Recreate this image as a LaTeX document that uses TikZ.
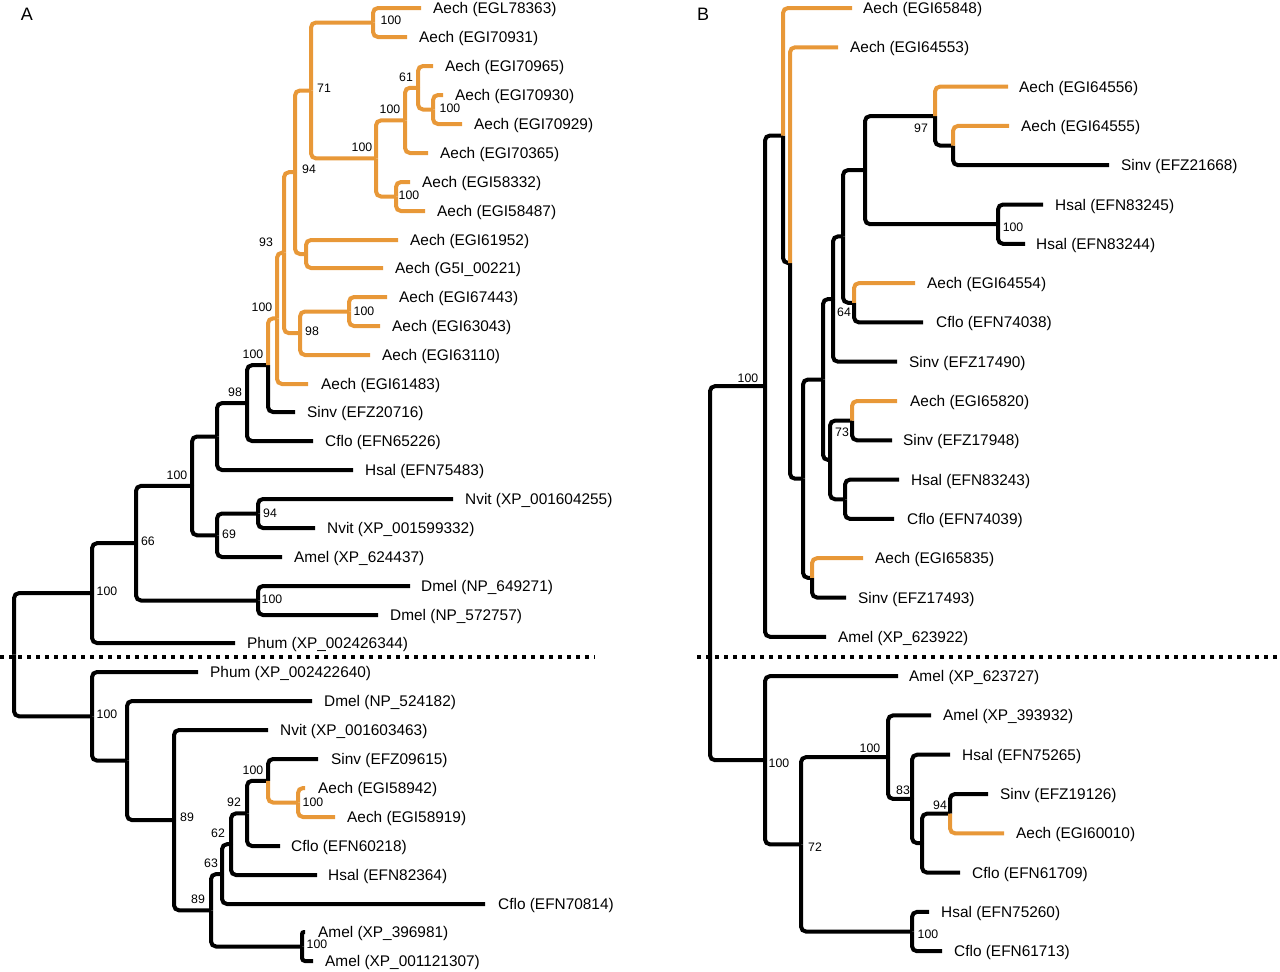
\documentclass[tikz,border=0pt]{standalone}
\usepackage{fontspec}
\setmainfont{Liberation Sans}
\definecolor{orng}{RGB}{232,152,56}
\newcommand\leaf[5]{\coordinate (#1) at (#2,#4); \node[lab] (#1l) at (#3,#4+5.5) {#5};}
\begin{document}
\begin{tikzpicture}[x=1pt,y=-1pt,
  edge/.style={line width=4pt, rounded corners=5pt},
  oedge/.style={edge, draw=orng},
  lab/.style={anchor=base west, inner sep=0pt, font=\fontsize{15.4}{17}\selectfont},
  sup/.style={inner sep=0pt, font=\fontsize{12.3}{14}\selectfont},
  panel/.style={inner sep=0pt, font=\fontsize{18}{20}\selectfont},
  sepline/.style={line width=4pt, dash pattern=on 4pt off 5pt}]
\useasboundingbox (0,0) rectangle (1280,972);
\fill[white] (0,0) rectangle (1280,972);
\node[panel] (pA) at (27,14) {A};
\node[panel] (pB) at (703,14) {B};
% ---------- Tree A leaves ----------
\leaf{a0}{421}{433}{8}{Aech (EGL78363)}
\leaf{a1}{407}{419}{37}{Aech (EGI70931)}
\leaf{a2}{433}{445}{66}{Aech (EGI70965)}
\leaf{a3}{443}{455}{95}{Aech (EGI70930)}
\leaf{a4}{462}{474}{124}{Aech (EGI70929)}
\leaf{a5}{428}{440}{153}{Aech (EGI70365)}
\leaf{a6}{410}{422}{182}{Aech (EGI58332)}
\leaf{a7}{425}{437}{211}{Aech (EGI58487)}
\leaf{a8}{398}{410}{240}{Aech (EGI61952)}
\leaf{a9}{383}{395}{268}{Aech (G5I\_00221)}
\leaf{a10}{387}{399}{297}{Aech (EGI67443)}
\leaf{a11}{380}{392}{326}{Aech (EGI63043)}
\leaf{a12}{370}{382}{355}{Aech (EGI63110)}
\leaf{a13}{308}{321}{384}{Aech (EGI61483)}
\leaf{a14}{295}{307}{412}{Sinv (EFZ20716)}
\leaf{a15}{313}{325}{441}{Cflo (EFN65226)}
\leaf{a16}{353}{365}{470}{Hsal (EFN75483)}
\leaf{a17}{453}{465}{499}{Nvit (XP\_001604255)}
\leaf{a18}{315}{327}{528}{Nvit (XP\_001599332)}
\leaf{a19}{282}{294}{557}{Amel (XP\_624437)}
\leaf{a20}{410}{421}{586}{Dmel (NP\_649271)}
\leaf{a21}{378}{390}{615}{Dmel (NP\_572757)}
\leaf{a22}{235}{247}{643}{Phum (XP\_002426344)}
\leaf{a23}{198}{210}{672}{Phum (XP\_002422640)}
\leaf{a24}{312}{324}{701}{Dmel (NP\_524182)}
\leaf{a25}{268}{280}{730}{Nvit (XP\_001603463)}
\leaf{a26}{318}{331}{759}{Sinv (EFZ09615)}
\leaf{a27}{305}{318}{788}{Aech (EGI58942)}
\leaf{a28}{335}{347}{817}{Aech (EGI58919)}
\leaf{a29}{280}{291}{846}{Cflo (EFN60218)}
\leaf{a30}{317}{328}{875}{Hsal (EFN82364)}
\leaf{a31}{485}{498}{904}{Cflo (EFN70814)}
\leaf{a32}{305}{318}{932}{Amel (XP\_396981)}
\leaf{a33}{313}{325}{961}{Amel (XP\_001121307)}
% ---------- Tree A internal nodes ----------
\coordinate (nA71top) at (373,22.5);
\coordinate (nA100f) at (433,109.5);
\coordinate (nA61) at (418,87.75);
\coordinate (nA100d) at (405,120.4);
\coordinate (nA100e) at (396,196.5);
\coordinate (nA100c) at (376,158.4);
\coordinate (nA71) at (311,90.5);
\coordinate (nA952) at (306,254);
\coordinate (nA94) at (295,172.2);
\coordinate (nA100g) at (349,311.5);
\coordinate (nA98) at (300,333.2);
\coordinate (nA93) at (284,252.7);
\coordinate (nAO1) at (277,318.4);
\coordinate (nA100b) at (268,365.2);
\coordinate (nA98a) at (247,403.1);
\coordinate (nA98b) at (217,436.5);
\coordinate (nA94b) at (258,513.5);
\coordinate (nA69) at (217,535.3);
\coordinate (nA100a) at (192,485.9);
\coordinate (nAdm) at (258,600.5);
\coordinate (nA66) at (136,543.2);
\coordinate (nAU) at (92,593.1);
\coordinate (nAam) at (302,946.5);
\coordinate (nAo) at (298,802.5);
\coordinate (nA100l) at (268,780.75);
\coordinate (nA92) at (247,813.4);
\coordinate (nA62) at (231,844.2);
\coordinate (nA63) at (222,874.1);
\coordinate (nA89b) at (211,910.3);
\coordinate (nA89) at (174,820.1);
\coordinate (nA2) at (127,760.6);
\coordinate (nAL) at (92,716.3);
\coordinate (nAroot) at (14,654.7);
% ---------- Tree A edges ----------
\foreach \p/\c in {nA100b/a14, nA98a/nA100b, nA98a/a15, nA98b/nA98a, nA98b/a16,
  nA94b/a17, nA94b/a18, nA69/nA94b, nA69/a19, nA100a/nA98b, nA100a/nA69,
  nAdm/a20, nAdm/a21, nA66/nA100a, nA66/nAdm, nAU/nA66, nAU/a22,
  nAroot/nAU, nAroot/nAL, nAL/a23, nAL/nA2, nA2/a24, nA2/nA89, nA89/a25, nA89/nA89b,
  nA89b/nA63, nA89b/nAam, nA63/nA62, nA63/a31, nA62/nA92, nA62/a30,
  nA92/nA100l, nA92/a29, nA100l/a26}
  \draw[edge] (\p) |- (\c);
\draw[edge, rounded corners=2pt] (nAam) |- (a32);
\draw[edge, rounded corners=3pt] (nAam) |- (a33);
\foreach \p/\c in {nA71top/a0, nA71top/a1, nA100f/a3, nA100f/a4, nA61/a2, nA61/nA100f,
  nA100d/nA61, nA100d/a5, nA100e/a6, nA100e/a7, nA100c/nA100d, nA100c/nA100e,
  nA71/nA71top, nA71/nA100c, nA952/a8, nA952/a9, nA94/nA71, nA94/nA952,
  nA100g/a10, nA100g/a11, nA98/nA100g, nA98/a12, nA93/nA94, nA93/nA98,
  nAO1/nA93, nAO1/a13, nA100b/nAO1, nA100l/nAo, nAo/a27, nAo/a28}
  \draw[oedge] (\p) |- (\c);
% ---------- Tree A support values ----------
\node[sup] (sA1) at (391,20) {100};
\node[sup] (sA2) at (324,88) {71};
\node[sup] (sA3) at (406,77) {61};
\node[sup] (sA4) at (450,108) {100};
\node[sup] (sA5) at (390,109) {100};
\node[sup] (sA6) at (362,147) {100};
\node[sup] (sA7) at (409,195) {100};
\node[sup] (sA8) at (309,169) {94};
\node[sup] (sA9) at (266,242) {93};
\node[sup] (sA10) at (262,307) {100};
\node[sup] (sA11) at (312,331) {98};
\node[sup] (sA12) at (364,311) {100};
\node[sup] (sA13) at (253,354) {100};
\node[sup] (sA14) at (235,392) {98};
\node[sup] (sA15) at (177,475) {100};
\node[sup] (sA16) at (270,513) {94};
\node[sup] (sA17) at (229,534) {69};
\node[sup] (sA18) at (148,541) {66};
\node[sup] (sA19) at (107,591) {100};
\node[sup] (sA20) at (272,599) {100};
\node[sup] (sA21) at (107,714) {100};
\node[sup] (sA22) at (187,817) {89};
\node[sup] (sA23) at (198,899) {89};
\node[sup] (sA24) at (211,863) {63};
\node[sup] (sA25) at (218,833) {62};
\node[sup] (sA26) at (234,802) {92};
\node[sup] (sA27) at (253,770) {100};
\node[sup] (sA28) at (313,802) {100};
\node[sup] (sA29) at (317,944) {100};
% ---------- Tree B leaves ----------
\leaf{b0}{852}{863}{8.0}{Aech (EGI65848)}
\leaf{b1}{838}{850}{47.3}{Aech (EGI64553)}
\leaf{b2}{1008}{1019}{86.6}{Aech (EGI64556)}
\leaf{b3}{1009}{1021}{125.9}{Aech (EGI64555)}
\leaf{b4}{1109}{1121}{165.2}{Sinv (EFZ21668)}
\leaf{b5}{1043}{1055}{204.5}{Hsal (EFN83245)}
\leaf{b6}{1025}{1036}{243.8}{Hsal (EFN83244)}
\leaf{b7}{915}{927}{283.1}{Aech (EGI64554)}
\leaf{b8}{923}{936}{322.4}{Cflo (EFN74038)}
\leaf{b9}{897}{909}{361.7}{Sinv (EFZ17490)}
\leaf{b10}{897}{910}{401.0}{Aech (EGI65820)}
\leaf{b11}{892}{903}{440.3}{Sinv (EFZ17948)}
\leaf{b12}{899}{911}{479.6}{Hsal (EFN83243)}
\leaf{b13}{894}{907}{518.9}{Cflo (EFN74039)}
\leaf{b14}{863}{875}{558.2}{Aech (EGI65835)}
\leaf{b15}{846}{858}{597.5}{Sinv (EFZ17493)}
\leaf{b16}{826}{838}{636.8}{Amel (XP\_623922)}
\leaf{b17}{898}{909}{676.1}{Amel (XP\_623727)}
\leaf{b18}{931}{943}{715.4}{Amel (XP\_393932)}
\leaf{b19}{950}{962}{754.7}{Hsal (EFN75265)}
\leaf{b20}{988}{1000}{794.0}{Sinv (EFZ19126)}
\leaf{b21}{1004}{1016}{833.3}{Aech (EGI60010)}
\leaf{b22}{960}{972}{872.6}{Cflo (EFN61709)}
\leaf{b23}{929}{941}{911.9}{Hsal (EFN75260)}
\leaf{b24}{942}{954}{951.2}{Cflo (EFN61713)}
% ---------- Tree B internal nodes ----------
\coordinate (nB555) at (953,145.55);
\coordinate (nB97) at (935,116.1);
\coordinate (nBhs) at (998,224.15);
\coordinate (nBA) at (865,170.1);
\coordinate (nB64) at (854,302.75);
\coordinate (nBB) at (843,236.4);
\coordinate (nBC) at (833,299.05);
\coordinate (nB73) at (852,420.65);
\coordinate (nBhc) at (845,499.25);
\coordinate (nBE) at (830,459.95);
\coordinate (nBD) at (823,379.5);
\coordinate (nB835) at (812,577.85);
\coordinate (nB4) at (803,478.7);
\coordinate (nB3) at (790,263.0);
\coordinate (nB2) at (783,135.5);
\coordinate (nBU) at (765,386.15);
\coordinate (nB94) at (950,813.65);
\coordinate (nBe) at (922,843.1);
\coordinate (nB83) at (912,798.9);
\coordinate (nB100) at (888,757.15);
\coordinate (nBhc2) at (912,931.55);
\coordinate (nB72) at (801,844.35);
\coordinate (nBL) at (765,760.2);
\coordinate (nBroot) at (710,573.2);
% ---------- Tree B edges ----------
\foreach \p/\c in {nBroot/nBU, nBroot/nBL, nBU/nB2, nBU/b16, nB2/nB3, nB3/nB4,
  nB4/nBD, nB4/nB835, nBD/nBC, nBD/nBE, nBC/nBB, nBC/b9, nBB/nBA, nBB/nB64,
  nBA/nB97, nBA/nBhs, nB97/nB555, nB555/b4, nBhs/b5, nBhs/b6, nB64/b8,
  nBE/nB73, nBE/nBhc, nB73/b11, nBhc/b12, nBhc/b13, nB835/b15,
  nBL/b17, nBL/nB72, nB72/nB100, nB72/nBhc2, nB100/b18, nB100/nB83,
  nB83/b19, nB83/nBe, nBe/nB94, nBe/b22, nB94/b20, nBhc2/b23, nBhc2/b24}
  \draw[edge] (\p) |- (\c);
\foreach \p/\c in {nB2/b0, nB3/b1, nB97/b2, nB555/b3, nB64/b7, nB73/b10, nB835/b14, nB94/b21}
  \draw[oedge] (\p) |- (\c);
% ---------- Tree B support values ----------
\node[sup] (sB1) at (921,128) {97};
\node[sup] (sB2) at (1013,227) {100};
\node[sup] (sB3) at (844,312) {64};
\node[sup] (sB4) at (842,432) {73};
\node[sup] (sB5) at (748,378) {100};
\node[sup] (sB6) at (779,763) {100};
\node[sup] (sB7) at (815,847) {72};
\node[sup] (sB8) at (870,748) {100};
\node[sup] (sB9) at (903,790) {83};
\node[sup] (sB10) at (940,805) {94};
\node[sup] (sB11) at (928,934) {100};
% ---------- separators ----------
\coordinate (dA1) at (0,657);
\coordinate (dA2) at (595,657);
\coordinate (dB1) at (697,657);
\coordinate (dB2) at (1280,657);
\draw[sepline] (dA1) -- (dA2);
\draw[sepline] (dB1) -- (dB2);
\end{tikzpicture}
\end{document}
